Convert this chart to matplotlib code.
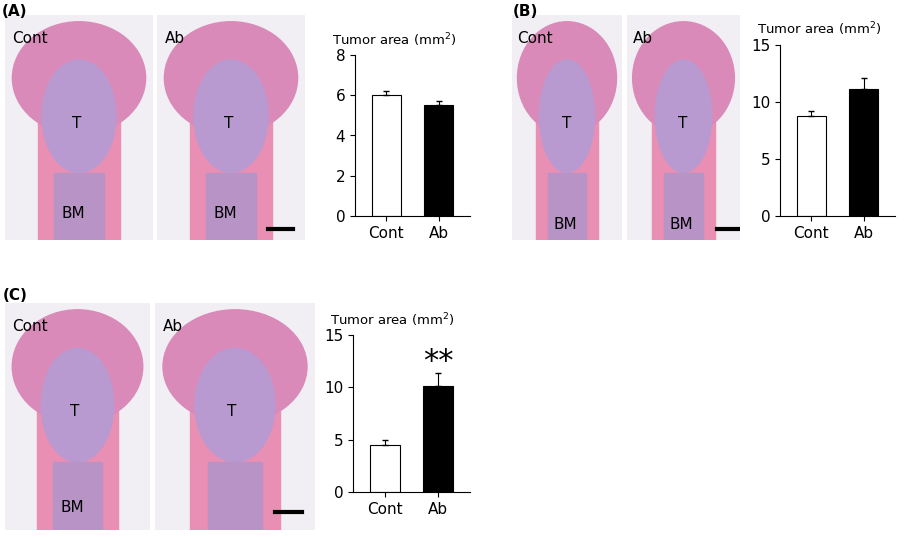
import numpy as np
from matplotlib import pyplot as plt
from matplotlib.patches import Ellipse, Rectangle

W, H = 921, 538
groups = ["Cont", "Ab"]
area_a = [6.0, 5.5]
err_a = [0.2, 0.2]
area_b = [8.8, 11.1]
err_b = [0.4, 1.0]
area_c = [4.5, 10.1]
err_c = [0.5, 1.3]

fig = plt.figure(figsize=(W/100, H/100), dpi=100)
fig.patch.set_facecolor("white")

def box(x0, y0, x1, y1):
    # pixel box -> figure fraction
    return [x0/W, 1 - y1/H, (x1 - x0)/W, (y1 - y0)/H]

def section(px, label):
    ax = fig.add_axes(box(*px))
    ax.set_xlim(0, 1); ax.set_ylim(0, 1); ax.axis("off")
    ax.add_patch(Rectangle((0, 0), 1, 1, color="#f1eef4"))
    ax.add_patch(Rectangle((0.22, 0), 0.56, 0.6, color="#e98fb4"))
    ax.add_patch(Ellipse((0.5, 0.72), 0.9, 0.5, color="#d98ab8"))
    ax.add_patch(Ellipse((0.5, 0.55), 0.5, 0.5, color="#b99ad0"))
    ax.add_patch(Rectangle((0.33, 0), 0.34, 0.3, color="#b793c6"))
    ax.text(0.05, 0.93, label, fontsize=11, va="top")
    ax.text(0.45, 0.5, "T", fontsize=11)
    return ax

def bars(px, vals, errs, ymax, step):
    ax = fig.add_axes(box(*px))
    x = np.arange(len(groups))
    ax.bar(x, vals, width=0.55, color=["white", "black"], edgecolor="black", linewidth=0.8)
    ax.errorbar(x, vals, yerr=[[0, 0], errs], fmt="none", ecolor="black", elinewidth=0.8, capsize=2)
    ax.set_xlim(-0.6, 1.6)
    ax.set_ylim(0, ymax)
    ax.set_yticks(np.arange(0, ymax + 0.1, step))
    ax.set_xticks(x, groups)
    ax.tick_params(labelsize=11)
    for s in ["top", "right"]:
        ax.spines[s].set_visible(False)
    ax.text(-0.2, 1.06, "Tumor area (mm$^2$)", transform=ax.transAxes, fontsize=9.5)
    return ax

# (A)
section((5, 15, 153, 240), "Cont").text(0.38, 0.1, "BM", fontsize=11)
a2 = section((157, 15, 305, 240), "Ab")
a2.text(0.38, 0.1, "BM", fontsize=11)
a2.plot([0.75, 0.92], [0.05, 0.05], color="black", lw=3)
bars((355, 55, 470, 216), area_a, err_a, 8, 2)
fig.text(2/W, 1 - 12/H, "(A)", fontsize=11, fontweight="bold", va="center")

# (B)
section((512, 15, 622, 240), "Cont").text(0.38, 0.05, "BM", fontsize=11)
b2 = section((627, 15, 740, 240), "Ab")
b2.text(0.38, 0.05, "BM", fontsize=11)
b2.plot([0.8, 0.98], [0.05, 0.05], color="black", lw=3)
bars((780, 45, 895, 216), area_b, err_b, 15, 5)
fig.text(513/W, 1 - 12/H, "(B)", fontsize=11, fontweight="bold", va="center")

# (C)
section((5, 303, 150, 530), "Cont").text(0.38, 0.08, "BM", fontsize=11)
c2 = section((155, 303, 315, 530), "Ab")
c2.plot([0.75, 0.92], [0.08, 0.08], color="black", lw=3)
cx = bars((353, 335, 470, 492), area_c, err_c, 15, 5)
cx.text(1, area_c[1] + err_c[1] + 0.3, "**", ha="center", fontsize=22)
fig.text(3/W, 1 - 296/H, "(C)", fontsize=11, fontweight="bold", va="center")

fig.savefig("out.png", dpi=100)
